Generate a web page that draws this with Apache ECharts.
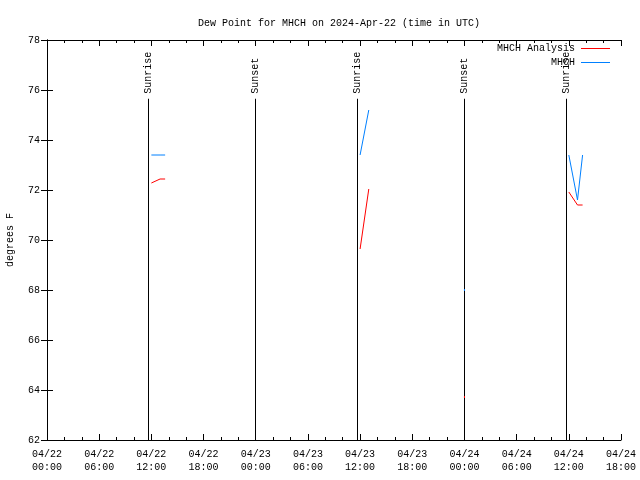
<!DOCTYPE html>
<html><head><meta charset="utf-8">
<script src="https://cdn.jsdelivr.net/npm/echarts@6/dist/echarts.min.js"></script>
<style>html,body{margin:0;padding:0;background:#fff}#c{width:640px;height:480px}</style>
</head><body><div id="c"></div>
<script>
// ---- data ----
const startTime = "2024-04-22 00:00";
const xTickHours = [0,6,12,18,24,30,36,42,48,54,60,66];
const yTicks = [62,64,66,68,70,72,74,76,78];
const analysisTimes = ["2024-04-22 12:00","2024-04-22 13:00","2024-04-22 13:35",null,
  "2024-04-23 12:00","2024-04-23 13:00",null,
  "2024-04-24 00:00",null,
  "2024-04-24 12:00","2024-04-24 13:00","2024-04-24 13:35"];
const analysisValues = [72.28,72.44,72.44,null,69.64,72.04,null,63.72,null,71.92,71.4,71.4];
const obsTimes = ["2024-04-22 12:00","2024-04-22 13:00","2024-04-22 13:35",null,
  "2024-04-23 12:00","2024-04-23 13:00",null,
  "2024-04-24 00:00",null,
  "2024-04-24 12:00","2024-04-24 13:00","2024-04-24 13:35"];
const obsValues = [73.4,73.4,73.4,null,73.4,75.2,null,68.0,null,73.4,71.6,73.4];
const sunLabels = ["Sunrise","Sunset","Sunrise","Sunset","Sunrise"];
const sunTimes = ["2024-04-22 11:37","2024-04-22 23:55","2024-04-23 11:39","2024-04-23 23:57","2024-04-24 11:41"];
const sunLineTop = 75.65;

// ---- helpers ----
function toHours(s){
  const t0 = Date.parse(startTime.replace(" ","T")+":00Z");
  const t = Date.parse(s.replace(" ","T")+":00Z");
  return (t - t0)/3600000;
}
function build(times, vals){
  const out = [];
  for (let i=0;i<times.length;i++){
    if (times[i]===null){ out.push([null,'-']); continue; }
    const prevGap = i===0 || times[i-1]===null;
    const nextGap = i===times.length-1 || times[i+1]===null;
    const item = {value:[toHours(times[i]), vals[i]]};
    if (prevGap && nextGap){ item.symbol='rect'; item.symbolSize=[1,2]; }
    out.push(item);
  }
  return out;
}
const FONT = 'Liberation Mono';
function pad(n){return (n<10?'0':'')+n;}
function fmtX(h){
  const d = 22 + Math.floor(h/24);
  const hh = Math.round(h%24);
  return "04/"+pad(d)+"\n"+pad(hh)+":00";
}
const axisLine = {show:true, lineStyle:{color:'#000', width:1}};
const chart = echarts.init(document.getElementById('c'), null, {renderer:'canvas'});
chart.setOption({
  backgroundColor:'#fff',
  animation:false,
  title:{text:'Dew Point for MHCH on 2024-Apr-22 (time in UTC)', left:334, top:13, textAlign:'center',
    textStyle:{fontFamily:FONT, fontSize:10, fontWeight:'normal', color:'#000'}},
  grid:{left:47, right:19, top:40, bottom:40, containLabel:false, outerBoundsMode:'none'},
  xAxis:[{type:'value', min:0, max:66, interval:6, position:'bottom',
    axisLine:axisLine, axisTick:{show:true, inside:true, length:6, lineStyle:{color:'#000'}},
    minorTick:{show:true, splitNumber:3, length:3, lineStyle:{color:'#000'}},
    splitLine:{show:false},
    axisLabel:{formatter:fmtX, color:'#000', fontFamily:FONT, fontSize:10, lineHeight:13, margin:8}},
   {type:'value', min:0, max:66, interval:6, position:'top',
    axisLine:axisLine, axisTick:{show:true, inside:true, length:6, lineStyle:{color:'#000'}},
    minorTick:{show:true, splitNumber:3, length:3, lineStyle:{color:'#000'}},
    splitLine:{show:false}, axisLabel:{show:false}}],
  yAxis:[{type:'value', min:62, max:78, interval:2, position:'left',
    name:'degrees F', nameLocation:'middle', nameRotate:90, nameGap:32,
    nameTextStyle:{fontFamily:FONT, fontSize:10, color:'#000'},
    axisLine:axisLine, axisTick:{show:true, inside:true, length:6, lineStyle:{color:'#000'}},
    splitLine:{show:false},
    axisLabel:{color:'#000', fontFamily:FONT, fontSize:10, margin:7}},
   {type:'value', min:62, max:78, interval:2, position:'right',
    axisLine:axisLine, axisTick:{show:true, inside:true, length:6, lineStyle:{color:'#000'}},
    splitLine:{show:false}, axisLabel:{show:false}}],
  graphic:[
    {type:'text', x:575, y:48, style:{text:'MHCH Analysis', align:'right', verticalAlign:'middle', fill:'#000', font:'10px "'+FONT+'"'}},
    {type:'line', shape:{x1:581, y1:48.5, x2:610, y2:48.5}, style:{stroke:'#ff0000', lineWidth:1}},
    {type:'text', x:575, y:62, style:{text:'MHCH', align:'right', verticalAlign:'middle', fill:'#000', font:'10px "'+FONT+'"'}},
    {type:'line', shape:{x1:581, y1:62.5, x2:610, y2:62.5}, style:{stroke:'#0080ff', lineWidth:1}}
  ],
  series:[
    {type:'custom', name:'sun', xAxisIndex:0, yAxisIndex:0, clip:false,
     data: sunTimes.map(t=>[toHours(t), sunLineTop]),
     encode:{x:0, y:1},
     renderItem:function(params, api){
       const x = api.value(0);
       const p0 = api.coord([x, 62]);
       const p1 = api.coord([x, api.value(1)]);
       const px = Math.round(p0[0])+0.5;
       return {type:'group', children:[
         {type:'line', shape:{x1:px, y1:p0[1], x2:px, y2:p1[1]}, style:{stroke:'#000', lineWidth:1}},
         {type:'text', x:px, y:p1[1]-5, rotation:Math.PI/2,
          style:{text:sunLabels[params.dataIndex], align:'left', verticalAlign:'middle', fill:'#000', font:'10px "'+FONT+'"'}}
       ]};
     }},
    {type:'line', name:'MHCH Analysis', data:build(analysisTimes, analysisValues),
     showSymbol:true, symbol:'none', connectNulls:false,
     lineStyle:{color:'#ff0000', width:1}, itemStyle:{color:'#ff0000'}},
    {type:'line', name:'MHCH', data:build(obsTimes, obsValues),
     showSymbol:true, symbol:'none', connectNulls:false,
     lineStyle:{color:'#0080ff', width:1}, itemStyle:{color:'#0080ff'}}
  ]
});
</script></body></html>
